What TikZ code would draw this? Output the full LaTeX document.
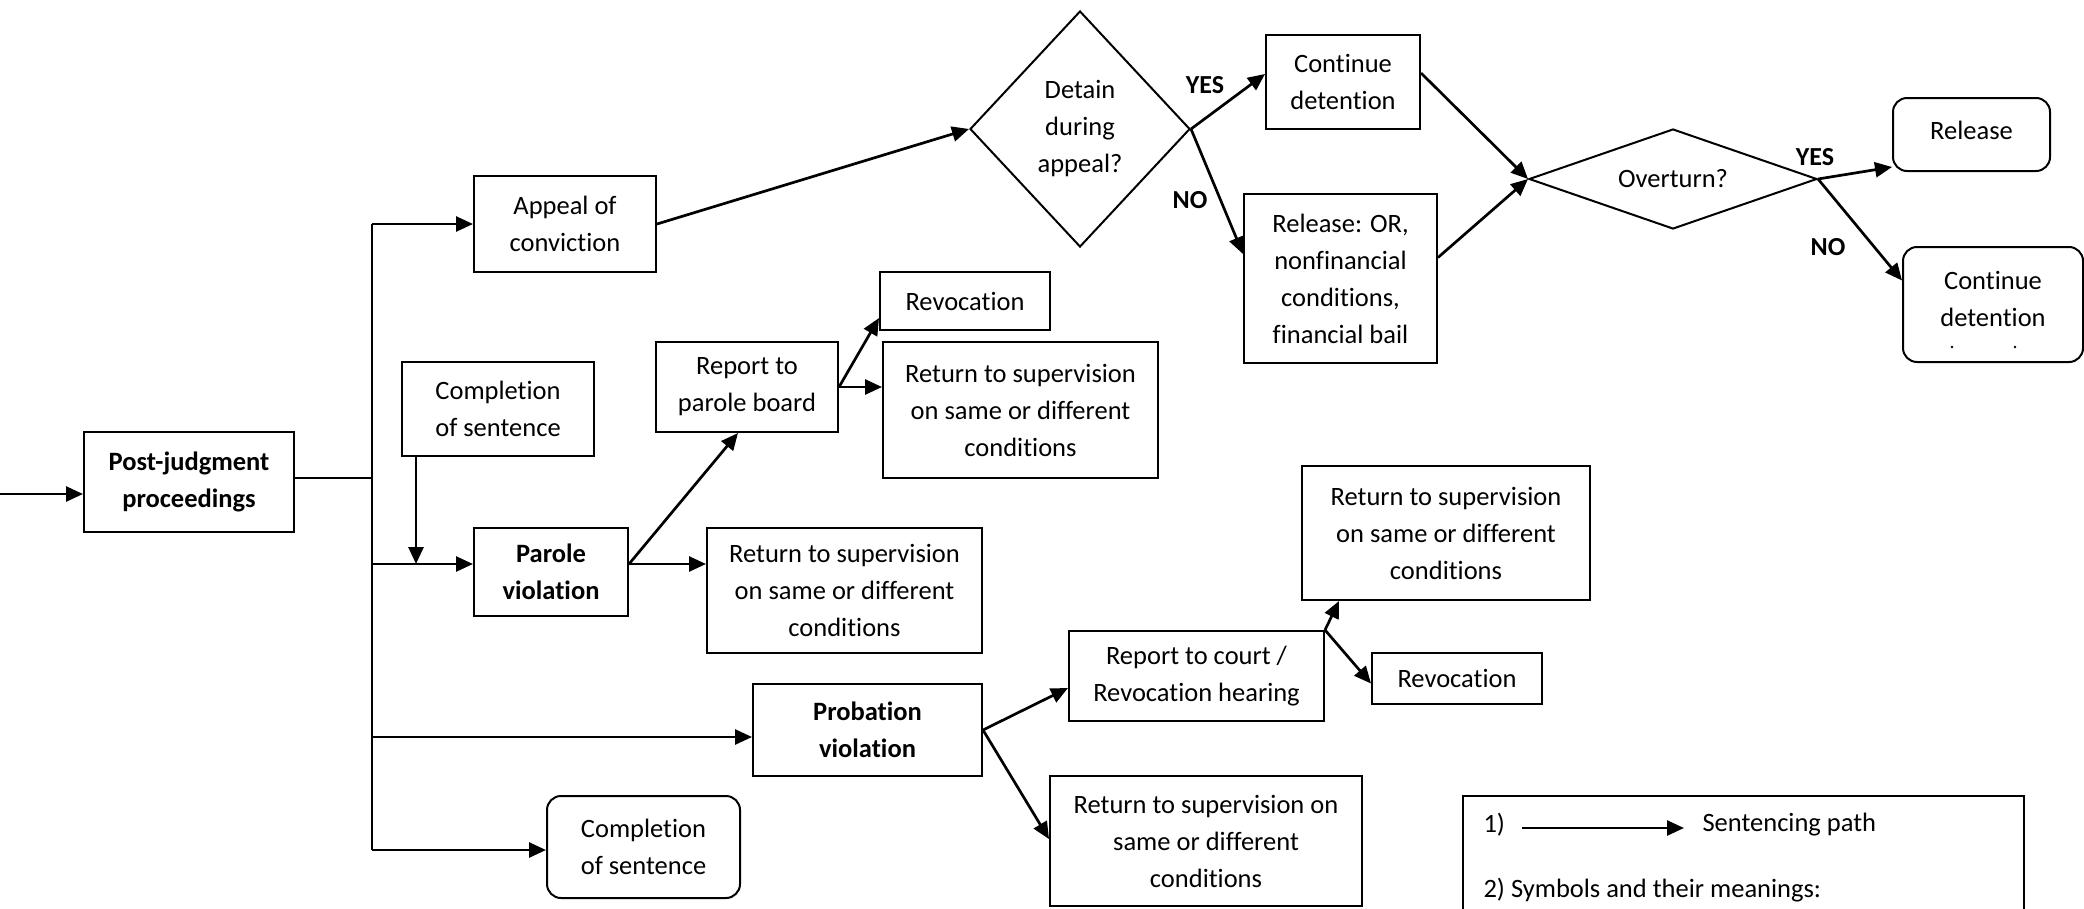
\documentclass[tikz,border=0pt]{standalone}
\usepackage{fontspec}
\setmainfont{Carlito}[Ligatures=NoCommon]
\usetikzlibrary{arrows.meta,shapes.geometric,calc}

\begin{document}
\begin{tikzpicture}[x=1pt,y=-1pt,
  txt/.style={font=\fontsize{26.5}{37}\selectfont},
  box/.style={draw, line width=2pt, inner sep=0pt, align=center, txt},
  rbox/.style={box, rounded corners=14pt},
  dia/.style={draw, line width=2pt, diamond, inner sep=0pt, align=center, txt},
  arr/.style={line width=2.7pt, -{Triangle[length=17pt,width=15pt]}},
  ln/.style={line width=2.7pt},
  thinln/.style={line width=1.6pt},
  yn/.style={font=\fontsize{26}{28}\selectfont\bfseries}
]
\useasboundingbox (0,0) rectangle (2084,908);
\clip (0,0) rectangle (2084,908);

% main entry and branches
\node[box, minimum width=210, minimum height=100, font=\fontsize{26.5}{37}\selectfont\bfseries] (pj) at (189,482) {Post-judgment\\proceedings};
\node[box, minimum width=182, minimum height=96] (appeal) at (565,224) {Appeal of\\conviction};
\node[box, minimum width=192, minimum height=94] (cs) at (498,409) {Completion\\of sentence};
\node[box, minimum width=154, minimum height=88, font=\fontsize{26.5}{37}\selectfont\bfseries] (pv) at (551,572) {Parole\\violation};
\node[box, minimum width=229, minimum height=92, font=\fontsize{26.5}{37}\selectfont\bfseries] (pbv) at (867.5,730) {Probation\\violation};
\node[rbox, minimum width=193, minimum height=102] (cr) at (643.5,847) {Completion\\of sentence};

% parole branch
\node[box, minimum width=182, minimum height=90] (rb) at (747,387) {Report to\\parole board};
\node[box, minimum width=170, minimum height=58] (rev1) at (965,301) {Revocation};
\node[box, minimum width=275, minimum height=136] (ret2) at (1020.5,410) {Return to supervision\\on same or different\\conditions};
\node[box, minimum width=275, minimum height=125] (ret1) at (844.5,590.5) {Return to supervision\\on same or different\\conditions};

% appeal branch
\node[dia, minimum width=220, minimum height=236, aspect=0.93] (detain) at (1080,129) {Detain\\during\\appeal?};
\node[box, minimum width=154, minimum height=94] (cont) at (1343,82) {Continue\\detention};
\node[box, minimum width=193, minimum height=169] (relor) at (1340.5,278.5) {Release: OR,\\nonfinancial\\conditions,\\financial bail};
\node[dia, minimum width=288, minimum height=100, aspect=2.88] (ov) at (1673,179) {Overturn?};
\node[rbox, minimum width=157, minimum height=73] (rel) at (1971.5,134.5) {};
\node[txt] (relt) at (1971.5,130) {Release};
\node[rbox, minimum width=180, minimum height=115] (cd) at (1993,304.5) {};
\node[txt, align=center] (cdt) at (1993,299) {Continue\\detention};
\fill (1952,347) circle (1.3pt) (2015,347) circle (1.3pt);

% probation branch
\node[box, minimum width=255, minimum height=90] (rc) at (1196.5,676) {Report to court /\\Revocation hearing};
\node[box, minimum width=288, minimum height=134] (ret3) at (1446,533) {Return to supervision\\on same or different\\conditions};
\node[box, minimum width=170, minimum height=51] (rev2) at (1457,678.5) {Revocation};
\node[box, minimum width=312, minimum height=130] (ret4) at (1206,841) {Return to supervision on\\same or different\\conditions};

% legend
\node[box, minimum width=561, minimum height=164] (leg) at (1743.5,878) {};
\node[txt, anchor=west] (leg1) at (1480,825) {1)};
\node[txt, anchor=west] (legp) at (1699,825) {Sentencing path};
\node[txt, anchor=west] (leg2) at (1480,890) {2) Symbols and their meanings:};
\coordinate (la) at (1522,828);
\coordinate (lb) at (1684,828);
\draw[arr] (la) -- (lb);

% trunk
\coordinate (in) at (0,494);
\coordinate (bustop) at (372,224);
\coordinate (busbot) at (372,850);
\coordinate (bp) at (372,564);
\coordinate (bprob) at (372,737);
\coordinate (csd) at (416,564);
\draw[arr] (in) -- (in -| pj.west);
\draw[thinln] (pj.east |- 0,478) -- (372,478);
\draw[ln] (bustop) -- (busbot);
\draw[arr] (bustop) -- (appeal.west);
\draw[arr] (bp) -- (bp -| pv.west);
\draw[arr] (csd |- cs.south) -- (csd);
\draw[arr] (bprob) -- (bprob -| pbv.west);
\draw[arr] (busbot) -- (busbot -| cr.west);

% appeal connectors
\draw[arr] (appeal.east) -- (detain.west);
\draw[arr] (detain.east) -- ($(cont.west)+(0,-8)$);
\draw[arr] (detain.east) -- ($(relor.north west)+(0,61)$);
\draw[arr] ($(cont.east)+(0,-9)$) -- (ov.west);
\draw[arr] ($(relor.east)+(0,-21)$) -- (ov.west);
\draw[arr] (ov.east) -- ($(rel.south west)+(0,-5)$);
\draw[arr] (ov.east) -- ($(cd.west)+(0,-24)$);
\node[yn] (y1) at (1205,85) {YES};
\node[yn] (n1) at (1190,200) {NO};
\node[yn] (y2) at (1815,157) {YES};
\node[yn] (n2) at (1828,247) {NO};

% parole connectors
\coordinate (pvo) at (pv.east |- bp);
\draw[arr] (pvo) -- ($(rb.south)+(-9,0)$);
\draw[arr] (pvo) -- (pvo -| ret1.west);
\draw[arr] (rb.east) -- ($(rev1.south west)+(0,-13)$);
\draw[arr] (rb.east) -- (rb.east -| ret2.west);

% probation connectors
\draw[arr] (pbv.east) -- ($(rc.west)+(0,12)$);
\draw[arr] (pbv.east) -- ($(ret4.north west)+(0,64)$);
\draw[arr] (rc.north east) -- ($(ret3.south west)+(38,0)$);
\draw[arr] (rc.north east) -- ($(rev2.west)+(0,5)$);
\end{tikzpicture}
\end{document}
